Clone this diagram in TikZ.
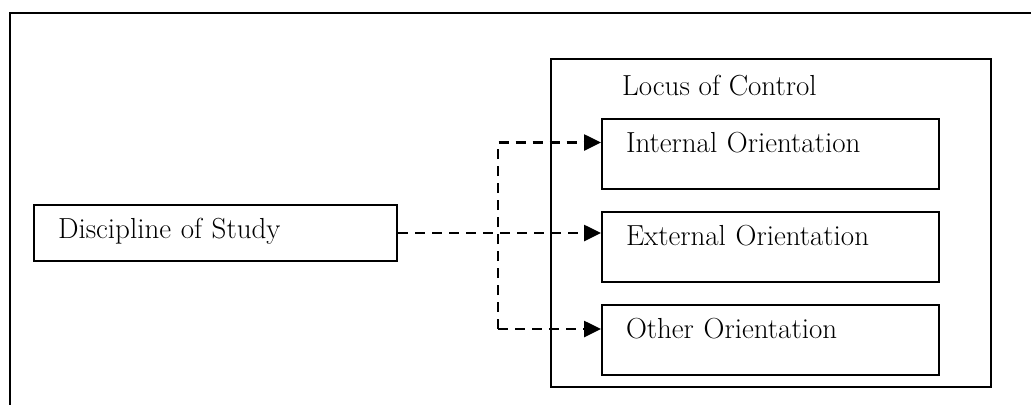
\documentclass[tikz,border=0pt]{standalone}
\usepackage{tikz}
\usetikzlibrary{arrows.meta, positioning}
\tikzstyle{frame}     = [line width=1.5pt]
\tikzstyle{block}     = [rectangle, draw, line width=2pt, align=left, inner xsep=24pt, inner ysep=0pt]
\tikzstyle{orient}    = [block, text width=289pt, minimum height=70pt, text height=17pt, text depth=20pt]
\tikzstyle{dashline}  = [line width=2.6pt, dash pattern=on 10pt off 7pt]
\tikzstyle{dasharrow} = [dashline, -{Triangle[length=17pt,width=16pt]}]
\tikzset{every node/.style={font=\fontsize{29}{34}\selectfont}}

\begin{document}
\begin{tikzpicture}[x=1pt, y=-1pt]
    \useasboundingbox (0,0) rectangle (1031,405);
    % open outer frame (cut off right and bottom)
    \draw [frame] (1031,13) -- (10,13) -- (10,405);
    % left: discipline
    \node (disc)   at (215.5,233) [block, text width=315pt, minimum height=56pt, text height=17pt, text depth=7pt] {Discipline of Study};
    % right: locus of control group
    \node (locus)  at (771,223)   [rectangle, draw, line width=2pt, minimum width=440pt, minimum height=328pt, inner sep=0pt] {};
    \node (title)  at (622,95)    [anchor=base west, inner sep=0pt] {Locus of Control};
    \node (intern) at (770.5,153.5) [orient] {Internal Orientation};
    \node (extern) at (770.5,247)   [orient] {External Orientation};
    \node (other)  at (770.5,340)   [orient] {Other Orientation};

    \coordinate (fork) at (498,0);
    \coordinate (inpt) at ([yshift=11pt]intern.west);
    \coordinate (otpt) at ([yshift=11pt]other.west);

    \draw [dasharrow] (disc.east) -- (disc.east -| extern.west);
    \draw [dasharrow] (fork |- otpt) -- (fork |- inpt) -- (inpt);
    \draw [dasharrow] (fork |- otpt) -- (otpt);
\end{tikzpicture}
\end{document}
